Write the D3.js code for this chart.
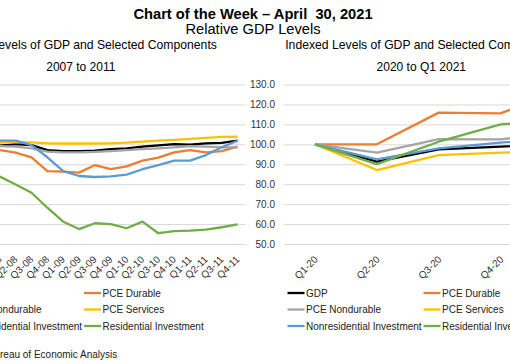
<!DOCTYPE html>
<html>
<head>
<meta charset="utf-8">
<script src="https://cdn.jsdelivr.net/npm/d3@7"></script>
<style>
  body { margin: 0; background: #fff; }
  text { font-family: "Liberation Sans", Arial, sans-serif; }
</style>
</head>
<body>
<script>
// series names + colours (legend order)
const seriesNames = ['GDP', 'PCE Durable', 'PCE Nondurable', 'PCE Services', 'Nonresidential Investment', 'Residential Investment'];
const seriesColors = ['#000000', '#ED7D31', '#A5A5A5', '#FFC000', '#5B9BD5', '#70AD47'];

// 2007 to 2011 chart
const quarters0711 = ['Q3-07', 'Q4-07', 'Q1-08', 'Q2-08', 'Q3-08', 'Q4-08', 'Q1-09', 'Q2-09', 'Q3-09',
  'Q4-09', 'Q1-10', 'Q2-10', 'Q3-10', 'Q4-10', 'Q1-11', 'Q2-11', 'Q3-11', 'Q4-11'];
const gdp0711 = [99.6, 100.0, 99.3, 100.1, 99.6, 97.1, 96.6, 96.6, 96.8, 97.6, 98.0, 98.8, 99.5, 100.1, 99.8, 100.5, 100.7, 101.8];
const durable0711 = [100.5, 100.0, 97.1, 95.8, 93.5, 86.6, 86.3, 85.8, 89.6, 87.6, 88.9, 91.8, 93.3, 96.0, 97.1, 96.0, 96.6, 98.8];
const nondurable0711 = [99.5, 100.0, 99.1, 98.8, 98.0, 96.3, 96.0, 96.0, 96.2, 96.6, 97.1, 97.6, 98.0, 98.5, 99.1, 98.8, 98.5, 98.5];
const services0711 = [99.8, 100.0, 100.8, 101.0, 101.0, 100.5, 100.4, 100.4, 100.4, 100.5, 100.8, 101.3, 101.8, 102.2, 102.7, 103.2, 103.7, 103.8];
const nonres0711 = [99.0, 100.0, 101.8, 101.8, 99.6, 93.5, 86.6, 84.1, 83.6, 83.9, 84.8, 87.5, 89.6, 91.8, 91.8, 94.6, 98.5, 101.8];
const resid0711 = [94.0, 88.0, 83.8, 79.8, 75.7, 68.2, 61.2, 57.5, 60.4, 60.0, 57.9, 61.2, 55.4, 56.5, 56.7, 57.2, 58.4, 59.9];

// 2020 to Q1 2021 chart
const quarters2021 = ['Q1-20', 'Q2-20', 'Q3-20', 'Q4-20', 'Q1-21'];
const gdp2021 = [100, 91.3, 97.5, 98.8, 100.6];
const durable2021 = [100, 100.0, 115.9, 115.5, 128.0];
const nondurable2021 = [100, 95.8, 102.6, 102.5, 106.0];
const services2021 = [100, 87.1, 94.6, 95.8, 96.9];
const nonres2021 = [100, 92.5, 98.0, 100.8, 103.5];
const resid2021 = [100, 90.1, 101.3, 110.0, 112.0];

const yTicks = [50, 60, 70, 80, 90, 100, 110, 120, 130];

const svg = d3.select('body').append('svg')
    .attr('width', 510)
    .attr('height', 364)
    .style('display', 'block');

// main titles
svg.append('text')
    .attr('x', 253).attr('y', 19)
    .attr('text-anchor', 'middle')
    .attr('font-size', 14.7).attr('font-weight', 'bold')
    .style('white-space', 'pre')
    .text('Chart of the Week \u2013 April  30, 2021');
svg.append('text')
    .attr('x', 253).attr('y', 34.3)
    .attr('text-anchor', 'middle')
    .attr('font-size', 14.7)
    .text('Relative GDP Levels');

const y = d3.scaleLinear().domain([50, 130]).range([244, 84.5]);

function drawChart(cfg) {
    const g = svg.append('g');
    const x = d3.scalePoint().domain(cfg.cats).range([cfg.left, cfg.right]).padding(0.5);

    // chart title
    g.append('text').attr('x', cfg.titleX).attr('y', 48.5)
        .attr('text-anchor', 'middle').attr('font-size', 12.2)
        .text('Indexed Levels of GDP and Selected Components');
    g.append('text').attr('x', cfg.titleX).attr('y', 70.5)
        .attr('text-anchor', 'middle').attr('font-size', 12)
        .text(cfg.subtitle);

    // gridlines + y labels (left chart's labels fall outside the picture)
    const yAxis = g.append('g')
        .attr('transform', `translate(${cfg.left},0)`)
        .call(d3.axisLeft(y).tickValues(yTicks).tickSize(-(cfg.right - cfg.left)).tickPadding(9)
            .tickFormat(cfg.yLabels ? d3.format('.1f') : ''));
    yAxis.select('.domain').remove();
    yAxis.selectAll('line').attr('stroke', '#d9d9d9');
    yAxis.selectAll('text').attr('font-size', 10).attr('fill', '#333').attr('font-family', null);

    // x labels
    const xAxis = g.append('g')
        .attr('transform', 'translate(0,244)')
        .call(d3.axisBottom(x).tickSize(0));
    xAxis.select('.domain').remove();
    xAxis.selectAll('text')
        .attr('x', 0).attr('y', 0).attr('dy', 0)
        .attr('text-anchor', 'end')
        .attr('transform', `translate(${cfg.labelShift},16) rotate(-45)`)
        .attr('font-size', 10).attr('fill', '#333').attr('font-family', null);

    // lines
    const line = d3.line().x((d, i) => x(cfg.cats[i])).y(d => y(d));
    g.selectAll('path.series')
        .data(cfg.series)
        .enter()
        .append('path')
        .attr('class', 'series')
        .attr('d', d => line(d))
        .attr('fill', 'none')
        .attr('stroke', (d, i) => seriesColors[i])
        .attr('stroke-width', 2.3)
        .attr('stroke-linejoin', 'round');

    // legend, 2 columns x 3 rows
    const rowsY = [293, 309.5, 326];
    const leg = g.selectAll('g.leg')
        .data(seriesNames)
        .enter()
        .append('g')
        .attr('transform', (d, i) => `translate(${cfg.legendCols[i % 2]},${rowsY[Math.floor(i / 2)]})`);
    leg.append('line')
        .attr('x1', 0).attr('x2', 17)
        .attr('stroke', (d, i) => seriesColors[i])
        .attr('stroke-width', 2.3);
    leg.append('text')
        .attr('x', 18.5).attr('dy', '0.35em')
        .attr('font-size', 10).attr('fill', '#222')
        .text(d => d);
}

drawChart({
    cats: quarters0711,
    left: -39.8, right: 245.5,
    titleX: 80.8,
    subtitle: '2007 to 2011',
    labelShift: 2,
    yLabels: false,
    legendCols: [-52, 84],
    series: [gdp0711, durable0711, nondurable0711, services0711, nonres0711, resid0711]
});

drawChart({
    cats: quarters2021,
    left: 284, right: 593.5,
    titleX: 421.3,
    subtitle: '2020 to Q1 2021',
    labelShift: 3,
    yLabels: true,
    legendCols: [287.5, 423.5],
    series: [gdp2021, durable2021, nondurable2021, services2021, nonres2021, resid2021]
});

// source
svg.append('text')
    .attr('x', 117.3).attr('y', 357.5)
    .attr('text-anchor', 'end')
    .attr('font-size', 10).attr('fill', '#222')
    .text('Source: Bureau of Economic Analysis');
</script>
</body>
</html>
